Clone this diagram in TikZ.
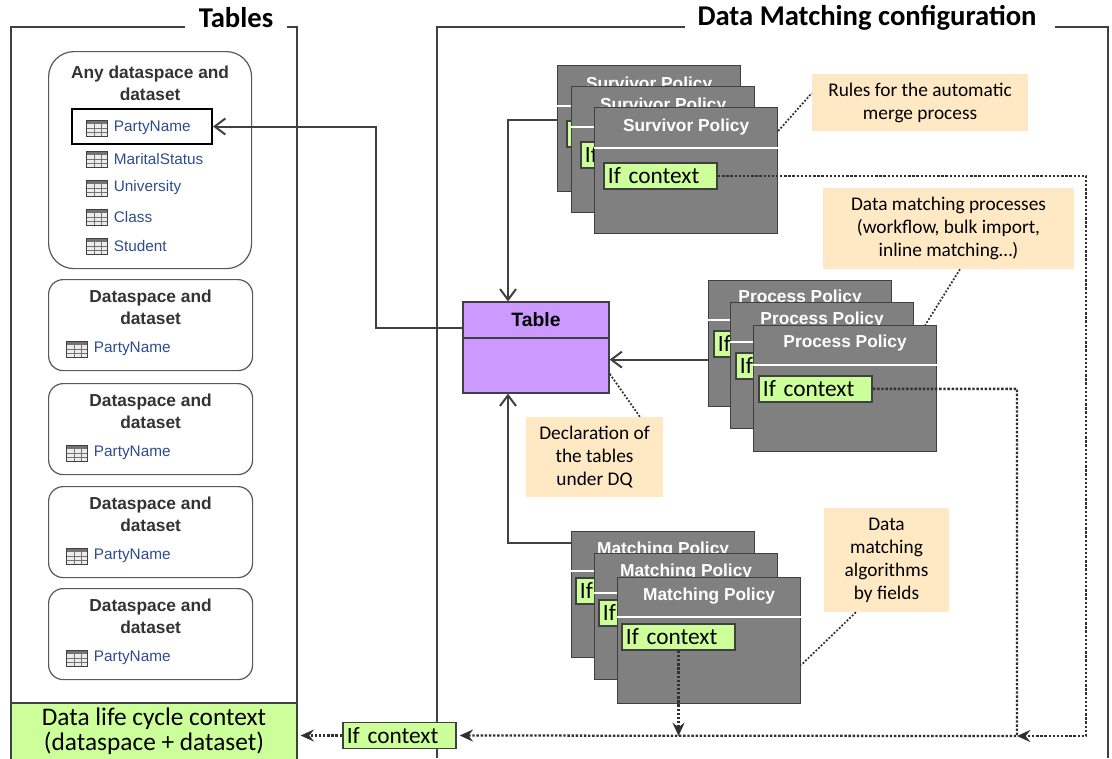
\documentclass[tikz,border=0pt]{standalone}
\usepackage{fontspec}
\setmainfont{Carlito}
\newfontfamily\arialfont{Liberation Sans}
\usepackage{tikz}
\usetikzlibrary{positioning,arrows.meta}
\definecolor{linegray}{HTML}{404040}
\definecolor{dotgray}{HTML}{303030}
\definecolor{policygray}{HTML}{808080}
\definecolor{ctxgreen}{HTML}{CCFF99}
\definecolor{tablepurple}{HTML}{CC99FF}
\definecolor{notebeige}{HTML}{FFE9C4}
\definecolor{nameblue}{HTML}{2E4C8C}
\definecolor{dstext}{HTML}{333333}
\tikzset{%
  panelframe/.style={draw=linegray, line width=1.6pt},
  paneltitle/.style={font=\fontsize{21.5}{24}\selectfont\bfseries, inner sep=0pt},
  anybox/.style={draw=black!65, line width=0.9pt, rounded corners=19pt, anchor=north west,
    minimum width=152.25pt, minimum height=162.75pt},
  dsbox/.style={draw=black!65, line width=0.9pt, rounded corners=11pt, anchor=north west,
    minimum width=153pt, minimum height=68.25pt},
  dstitle/.style={font=\arialfont\fontsize{13}{16.5}\selectfont\bfseries, text=dstext, align=center, inner sep=0pt},
  tabname/.style={font=\arialfont\fontsize{11.5}{13}\selectfont, text=nameblue, inner xsep=1pt},
  tabicon/.style={draw=black!75, fill=gray!15, line width=0.7pt, minimum width=15.75pt,
    minimum height=12pt, inner sep=0pt,
    path picture={
      \fill[black!55] (path picture bounding box.north west) rectangle ([yshift=-3pt]path picture bounding box.north east);
      \foreach \r in {3pt,6pt}
        \draw[black!55, line width=0.4pt] ([yshift=\r]path picture bounding box.south west) -- ([yshift=\r]path picture bounding box.south east);
      \foreach \c in {5.25pt,10.5pt}
        \draw[black!55, line width=0.4pt] ([xshift=\c]path picture bounding box.south west) -- ([xshift=\c]path picture bounding box.north west);
    }},
  hlbox/.style={draw=black, line width=1.5pt, minimum width=105pt, minimum height=26.25pt, inner sep=0pt},
  lifebox/.style={fill=ctxgreen, draw=linegray, line width=1.4pt, minimum width=214.5pt,
    minimum height=42.75pt, inner sep=0pt, align=center, font=\fontsize{19}{19}\selectfont},
  tablebox/.style={fill=tablepurple, draw=linegray, line width=0.9pt, minimum width=109.5pt,
    minimum height=68.25pt, inner sep=0pt},
  tabletitle/.style={font=\arialfont\fontsize{14.5}{16}\selectfont\bfseries, inner sep=0pt},
  tablesep/.style={draw=linegray, line width=1.4pt},
  policy/.style={fill=policygray, draw=linegray, line width=0.9pt, anchor=north west,
    minimum width=137.25pt, minimum height=94.5pt, inner sep=0pt},
  poltitle/.style={font=\arialfont\fontsize{13}{15}\selectfont\bfseries, text=white, inner sep=0pt},
  polsep/.style={draw=white, line width=1.4pt},
  ifbox/.style={fill=ctxgreen, draw=linegray, line width=1.3pt, anchor=north west,
    text width=79pt, inner xsep=3pt, inner ysep=0pt, minimum height=19.5pt, align=left,
    font=\fontsize{17.5}{18}\selectfont},
  notebox/.style={fill=notebeige, align=center, inner sep=0pt, font=\fontsize{14.5}{17.3}\selectfont},
  conn/.style={draw=linegray, line width=1.5pt, -{Straight Barb[length=8pt,width=12pt]}},
  ctx/.style={draw=dotgray, line width=1.7pt, dash pattern=on 1.8pt off 1.3pt,
    -{Stealth[open,length=10pt,width=9pt,inset=3.5pt]}},
  leader/.style={draw=dotgray, line width=1.3pt, dash pattern=on 1.4pt off 1.3pt},
}

\begin{document}
\begin{tikzpicture}[x=0.75pt, y=-0.75pt]
\path[use as bounding box] (0,0) rectangle (1112,758);
\clip (0,0) rectangle (1112,758);

% panel frames
\node[paneltitle] (tablestitle) at (236,18) {Tables};
\node[paneltitle] (dmtitle) at (867,18) {Data Matching configuration};
\draw[panelframe] (185,27) -- (11,27) -- (11,758);
\draw[panelframe] (287,27) -- (297,27) -- (297,758);
\draw[panelframe] (685,27) -- (437,27) -- (437,758);
\draw[panelframe] (1055,27) -- (1108,27) -- (1108,758);

% tables
\node[anybox] (anyds) at (48,51) {};
\node[dstitle] at ([yshift=-24pt]anyds.north) {Any dataspace and\\dataset};
\foreach \n/\dy [count=\i] in {PartyName/57.75pt,MaritalStatus/81pt,University/102.75pt,Class/124.5pt,Student/146.25pt}{
  \node[tabicon] (anyicon\i) at ([xshift=37pt,yshift=-\dy]anyds.north west) {};
  \node[tabname, right=3pt of anyicon\i] (anyname\i) {\n};
}
\node[hlbox] (partyhl) at (142,126.5) {};

\foreach \k/\y in {2/279,3/383,4/486,5/588}{
  \node[dsbox] (ds\k) at (48,\y) {};
  \node[dstitle] at ([yshift=-21.4pt]ds\k.north) {Dataspace and\\dataset};
  \node[tabicon] (dsicon\k) at ([xshift=22pt,yshift=-52.5pt]ds\k.north west) {};
  \node[tabname, right=3pt of dsicon\k] (dsname\k) {PartyName};
}

\node[lifebox] (lifecycle) at (154,731.5) {Data life cycle context\\(dataspace + dataset)};

% table
\node[tablebox] (table) at (536,347.5) {};
\node[tabletitle] at ([yshift=-13.5pt]table.north) {Table};
\draw[tablesep] ([yshift=-27.75pt]table.north west) -- ([yshift=-27.75pt]table.north east);

% policies
\foreach \k/\x/\y in {1/557/65,2/571/86,3/594/107}{
  \node[policy] (surv\k) at (\x,\y) {};
  \node[poltitle] at ([yshift=-15pt]surv\k.north) {Survivor Policy};
  \draw[polsep] ([yshift=-30.75pt]surv\k.north west) -- ([yshift=-30.75pt]surv\k.north east);
  \node[ifbox] (survif\k) at ([xshift=6.75pt,yshift=-41.25pt]surv\k.north west) {If context};
}
\foreach \k/\x/\y in {1/708/280,2/730/302,3/753/325}{
  \node[policy] (proc\k) at (\x,\y) {};
  \node[poltitle] at ([yshift=-13.5pt]proc\k.north) {Process Policy};
  \draw[polsep] ([yshift=-30pt]proc\k.north west) -- ([yshift=-30pt]proc\k.north east);
  \node[ifbox] (procif\k) at ([xshift=3.75pt,yshift=-37.5pt]proc\k.north west) {If context};
}
\foreach \k/\x/\y in {1/571/531,2/594/553,3/617/577}{
  \node[policy] (match\k) at (\x,\y) {};
  \node[poltitle] at ([yshift=-14.25pt]match\k.north) {Matching Policy};
  \draw[polsep] ([yshift=-30pt]match\k.north west) -- ([yshift=-30pt]match\k.north east);
  \node[ifbox] (matchif\k) at ([xshift=3pt,yshift=-34.5pt]match\k.north west) {If context};
}

\node[ifbox, anchor=center] (ctxif) at (399.5,735.5) {If context};

% notes
\node[notebox, minimum width=162pt, minimum height=42.75pt] (rules) at (920,102.5) {Rules for the automatic\\merge process};
\node[notebox, minimum width=188.25pt, minimum height=60.75pt] (procnote) at (948.5,228.5) {Data matching processes\\(workflow, bulk import,\\inline matching…)};
\node[notebox, minimum width=102.75pt, minimum height=60pt] (declnote) at (594.5,457) {Declaration of\\the tables\\under DQ};
\node[notebox, minimum width=93.75pt, minimum height=78pt] (algnote) at (886.5,560) {Data\\matching\\algorithms\\by fields};

% connectors
\coordinate (procin) at ([yshift=-12pt]proc1.west);
\draw[conn] ([yshift=14.6pt]table.west) -- ++(-86,0) |- (partyhl.east);
\draw[conn] ([yshift=-41.25pt]surv1.north west) -| ([xshift=-21pt]table.north);
\draw[conn] (procin) -- (table.east |- procin);
\draw[conn] ([yshift=-9pt]match1.north west) -| ([xshift=-21pt]table.south);

% context lines
\coordinate (busjoin) at (1017,736);
\draw[ctx] (survif3.east) -| (1086,736) -- (busjoin);
\draw[ctx, shorten >=2pt] (procif3.east) -| (busjoin) -- (ctxif.east);
\draw[ctx] (matchif3.south) -- (matchif3.south |- busjoin);
\draw[ctx, shorten >=2pt] (ctxif.west) -- (lifecycle.east |- ctxif.west);

% note leaders
\draw[leader] ([yshift=-18pt]surv3.north east) -- ([yshift=7pt]rules.west);
\draw[leader] ([xshift=8.6pt]procnote.south) -- ([xshift=-9pt]proc3.north east);
\draw[leader] ([xshift=34pt]declnote.north) -- ([yshift=15pt]table.south east);
\draw[leader] ([xshift=-23pt]algnote.south) -- ([yshift=-66pt]match3.north east);
\end{tikzpicture}
\end{document}
